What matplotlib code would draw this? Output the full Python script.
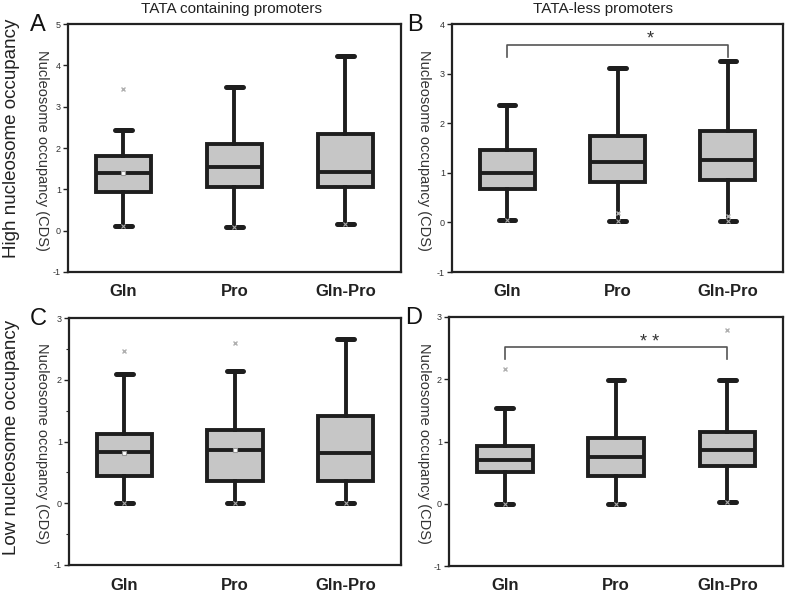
import matplotlib
matplotlib.use("Agg")
import matplotlib.pyplot as plt
from matplotlib.ticker import MultipleLocator

plt.rcParams['font.family'] = ['Liberation Sans', 'DejaVu Sans']

categories = ["Gln", "Pro", "Gln-Pro"]

# panel A: TATA containing, high occupancy
A_whislo = [0.12, 0.09, 0.16]
A_q1 = [0.93, 1.05, 1.05]
A_med = [1.39, 1.53, 1.43]
A_q3 = [1.80, 2.10, 2.33]
A_whishi = [2.43, 3.47, 4.23]
A_mean = [1.39, None, None]
A_fliers = [[3.43], [], []]

# panel B: TATA-less, high occupancy
B_whislo = [0.05, 0.03, 0.03]
B_q1 = [0.68, 0.81, 0.85]
B_med = [0.99, 1.21, 1.25]
B_q3 = [1.45, 1.75, 1.85]
B_whishi = [2.37, 3.12, 3.25]
B_mean = [None, None, None]
B_fliers = [[], [0.19], [0.12]]

# panel C: TATA containing, low occupancy
C_whislo = [0.0, 0.0, 0.0]
C_q1 = [0.44, 0.36, 0.36]
C_med = [0.83, 0.86, 0.82]
C_q3 = [1.12, 1.18, 1.42]
C_whishi = [2.09, 2.14, 2.66]
C_mean = [0.82, 0.86, None]
C_fliers = [[2.47], [2.59], []]

# panel D: TATA-less, low occupancy
D_whislo = [0.0, 0.0, 0.03]
D_q1 = [0.51, 0.44, 0.61]
D_med = [0.70, 0.75, 0.87]
D_q3 = [0.93, 1.06, 1.16]
D_whishi = [1.54, 1.98, 1.98]
D_mean = [None, None, None]
D_fliers = [[2.17], [], [2.79]]

W, H = 787, 593
fig = plt.figure(figsize=(W / 100, H / 100), dpi=100)


def px_axes(left, top, right, bottom):
    return fig.add_axes([left / W, 1 - bottom / H, (right - left) / W, (bottom - top) / H])


def draw_panel(ax, whislo, q1, med, q3, whishi, mean, fliers, ylim, minor=False):
    stats = []
    for i in range(3):
        stats.append(dict(whislo=whislo[i], q1=q1[i], med=med[i], q3=q3[i],
                          whishi=whishi[i], fliers=[]))
    pos = [1, 2, 3]
    ax.bxp(stats, positions=pos, widths=0.5, patch_artist=True, showfliers=False,
           capwidths=0.15,
           boxprops=dict(facecolor='#c6c6c6', edgecolor='#1e1e1e', linewidth=2.8),
           medianprops=dict(color='#1e1e1e', linewidth=2.8),
           whiskerprops=dict(color='#1e1e1e', linewidth=2.8),
           capprops=dict(color='#1e1e1e', linewidth=3.6, solid_capstyle='round'))
    for i in range(3):
        if mean[i] is not None:
            ax.plot(pos[i], mean[i], marker='s', ms=2.5, mfc='white', mec='#999999',
                    mew=0.8, zorder=5)
        for f in fliers[i]:
            ax.plot(pos[i], f, marker='x', ms=3, color='#b0b0b0', mew=1, zorder=5)
        ax.plot(pos[i], whislo[i], marker='x', ms=2.5, color='#aaaaaa', mew=0.8, zorder=5)
    ax.set_xlim(0.5, 3.5)
    ax.set_ylim(*ylim)
    ax.yaxis.set_major_locator(MultipleLocator(1))
    if minor:
        ax.yaxis.set_minor_locator(MultipleLocator(0.5))
        ax.tick_params(axis='y', which='minor', length=2.5, width=0.8, color='#222222')
    ax.set_yticklabels([f"{int(t)}" for t in ax.get_yticks()])
    ax.tick_params(axis='y', which='major', length=3.5, width=1.0, labelsize=6.5,
                   pad=1.5, color='#222222', labelcolor='#333333')
    ax.set_xticks(pos)
    ax.set_xticklabels(categories, fontsize=12, fontweight='bold', color='#222222')
    ax.tick_params(axis='x', length=0, pad=9)
    for s in ax.spines.values():
        s.set_linewidth(1.6)
        s.set_color('#222222')


axA = px_axes(68, 24, 401, 272)
draw_panel(axA, A_whislo, A_q1, A_med, A_q3, A_whishi, A_mean, A_fliers, (-1, 5))
axB = px_axes(452, 24, 783, 272)
draw_panel(axB, B_whislo, B_q1, B_med, B_q3, B_whishi, B_mean, B_fliers, (-1, 4))
axC = px_axes(69, 318, 401, 565)
draw_panel(axC, C_whislo, C_q1, C_med, C_q3, C_whishi, C_mean, C_fliers, (-1, 3), minor=True)
axD = px_axes(449, 317, 783, 566)
draw_panel(axD, D_whislo, D_q1, D_med, D_q3, D_whishi, D_mean, D_fliers, (-1, 3))

# significance brackets
bc = '#555555'
axB.plot([1, 1, 3, 3], [3.33, 3.57, 3.57, 3.33], color=bc, lw=1.2)
axB.text(2.3, 3.53, "*", ha='center', va='bottom', fontsize=13, color='#333333')
axD.plot([1, 1, 3, 3], [2.33, 2.52, 2.52, 2.33], color=bc, lw=1.2)
axD.text(2.3, 2.45, "* *", ha='center', va='bottom', fontsize=13, color='#333333')


def ftext(x, y, s, **kw):
    fig.text(x / W, 1 - y / H, s, **kw)


ftext(232, 9, "TATA containing promoters", ha='center', va='center', fontsize=11, color='#222222')
ftext(603, 9, "TATA-less promoters", ha='center', va='center', fontsize=11, color='#222222')

ftext(38, 25, "A", ha='center', va='center', fontsize=17, color='#111111')
ftext(415, 25, "B", ha='center', va='center', fontsize=17, color='#111111')
ftext(38, 319, "C", ha='center', va='center', fontsize=17, color='#111111')
ftext(414, 318, "D", ha='center', va='center', fontsize=17, color='#111111')

ftext(12, 138, "High nucleosome occupancy", ha='center', va='center', rotation=90,
      fontsize=13.5, color='#222222')
ftext(12, 437, "Low nucleosome occupancy", ha='center', va='center', rotation=90,
      fontsize=13.5, color='#222222')

for (x, y) in [(42, 150), (424, 150), (42, 443), (424, 443)]:
    ftext(x, y, "Nucleosome occupancy (CDS)", ha='center', va='center', rotation=-90,
          fontsize=10.5, color='#333333')

fig.savefig("out.png", dpi=100)
